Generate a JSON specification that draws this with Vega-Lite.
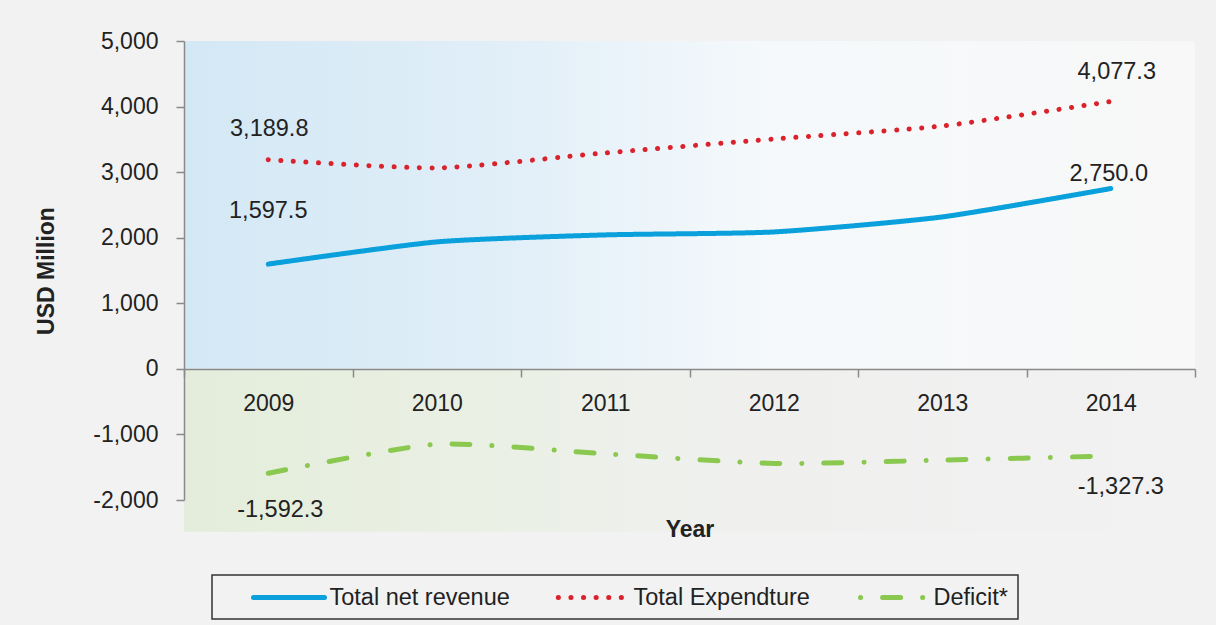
{
  "$schema": "https://vega.github.io/schema/vega-lite/v6.json",
  "width": 1011,
  "height": 459,
  "autosize": {"type": "none"},
  "padding": {"left": 184, "top": 41, "right": 21, "bottom": 125},
  "background": "#f2f2f2",
  "config": {
    "locale": {"number": {"decimal": ".", "thousands": ",", "grouping": [3], "currency": ["$", ""], "minus": "-"}},
    "view": {"stroke": null},
    "font": "Liberation Sans",
    "axis": {"labelFont": "Liberation Sans", "titleFont": "Liberation Sans", "labelColor": "#222222", "titleColor": "#222222", "domainColor": "#8a8a8a", "tickColor": "#8a8a8a", "domainWidth": 1.5, "tickWidth": 1.5, "grid": false}
  },
  "datasets": {
    "series": [
      {"year": "2009", "series": "Total net revenue", "value": 1597.5},
      {"year": "2010", "series": "Total net revenue", "value": 1936},
      {"year": "2011", "series": "Total net revenue", "value": 2043},
      {"year": "2012", "series": "Total net revenue", "value": 2088},
      {"year": "2013", "series": "Total net revenue", "value": 2317},
      {"year": "2014", "series": "Total net revenue", "value": 2750.0},
      {"year": "2009", "series": "Total Expendture", "value": 3189.8},
      {"year": "2010", "series": "Total Expendture", "value": 3064},
      {"year": "2011", "series": "Total Expendture", "value": 3293},
      {"year": "2012", "series": "Total Expendture", "value": 3506},
      {"year": "2013", "series": "Total Expendture", "value": 3704},
      {"year": "2014", "series": "Total Expendture", "value": 4077.3},
      {"year": "2009", "series": "Deficit*", "value": -1592.3},
      {"year": "2010", "series": "Deficit*", "value": -1148},
      {"year": "2011", "series": "Deficit*", "value": -1296},
      {"year": "2012", "series": "Deficit*", "value": -1443},
      {"year": "2013", "series": "Deficit*", "value": -1392},
      {"year": "2014", "series": "Deficit*", "value": -1327.3}
    ],
    "bands": [
      {"zone": "positive", "lo": 0, "hi": 5000},
      {"zone": "negative", "lo": 0, "hi": -2485}
    ]
  },
  "layer": [
    {
      "data": {"name": "bands"},
      "transform": [{"filter": "datum.zone === 'positive'"}],
      "mark": {"type": "rect", "color": {"gradient": "linear", "x1": 0, "x2": 1, "y1": 0, "y2": 0, "stops": [
        {"offset": 0, "color": "#d3e8f5"},
        {"offset": 0.3, "color": "#e0eef8"},
        {"offset": 0.58, "color": "rgba(245,249,251,1)"},
        {"offset": 1, "color": "rgba(249,249,249,0.8)"}
      ]}},
      "encoding": {
        "y": {"field": "lo", "type": "quantitative", "scale": {"domain": [-2000, 5000], "nice": false, "zero": false}},
        "y2": {"field": "hi"}
      }
    },
    {
      "data": {"name": "bands"},
      "transform": [{"filter": "datum.zone === 'negative'"}],
      "mark": {"type": "rect", "color": {"gradient": "linear", "x1": 0, "x2": 1, "y1": 0, "y2": 0, "stops": [
        {"offset": 0, "color": "#e4eddb"},
        {"offset": 0.3, "color": "#eaf0e4"},
        {"offset": 0.5, "color": "rgba(238,240,236,0.8)"},
        {"offset": 1, "color": "rgba(236,236,236,0)"}
      ]}},
      "encoding": {
        "y": {"field": "lo", "type": "quantitative"},
        "y2": {"field": "hi"}
      }
    },
    {
      "data": {"name": "series"},
      "mark": {"type": "line", "strokeWidth": 5, "strokeCap": "round", "interpolate": "cardinal", "tension": 0.4},
      "encoding": {
        "x": {
          "field": "year", "type": "nominal",
          "scale": {"paddingInner": 0, "paddingOuter": 0},
          "axis": {
            "title": "Year", "zindex": 2, "labelAngle": 0, "offset": -131, "tickBand": "extent", "tickSize": 8,
            "labelFontSize": 23, "labelPadding": 15, "titleFontSize": 23, "titleFontWeight": "bold", "titlePadding": 103
          }
        },
        "y": {
          "field": "value", "type": "quantitative",
          "scale": {"domain": [-2000, 5000], "nice": false, "zero": false},
          "axis": {
            "title": "USD Million", "zindex": 2, "values": [-2000, -1000, 0, 1000, 2000, 3000, 4000, 5000], "format": ",d",
            "tickSize": 8, "labelFontSize": 23, "labelPadding": 18, "titleFontSize": 23, "titleFontWeight": "bold", "titlePadding": 34
          }
        },
        "color": {
          "field": "series", "type": "nominal",
          "scale": {"domain": ["Total net revenue", "Total Expendture", "Deficit*"], "range": ["#0aa0dc", "#d9222c", "#8ac84f"]},
          "legend": {
            "title": " ", "titleOrient": "left", "titlePadding": 29, "titleFontSize": 23,
            "orient": "none", "legendX": 28, "legendY": 534, "direction": "horizontal",
            "symbolType": "M-3.55,0H3.55", "symbolSize": 400, "symbolStrokeWidth": 5, "symbolOffset": 25.5,
            "labelFontSize": 23.5, "labelFont": "Liberation Sans", "labelColor": "#222222", "labelOffset": 28, "labelLimit": 400,
            "columnPadding": 37, "padding": 10, "strokeColor": "#333333",
            "encode": {"symbols": {"update": {"strokeCap": {"value": "round"}, "strokeDashOffset": {"value": 37}}}, "legend": {"update": {"strokeWidth": {"value": 1.5}}}}
          }
        },
        "strokeDash": {
          "field": "series", "type": "nominal",
          "scale": {"domain": ["Total net revenue", "Total Expendture", "Deficit*"], "range": [[1, 0], [0.1, 12.5], [18, 22, 0.1, 22]]},
          "legend": {
            "title": " ", "titleOrient": "left", "titlePadding": 29, "titleFontSize": 23,
            "orient": "none", "legendX": 28, "legendY": 534, "direction": "horizontal",
            "symbolType": "M-3.55,0H3.55", "symbolSize": 400, "symbolStrokeWidth": 5, "symbolOffset": 25.5,
            "labelFontSize": 23.5, "labelFont": "Liberation Sans", "labelColor": "#222222", "labelOffset": 28, "labelLimit": 400,
            "columnPadding": 37, "padding": 10, "strokeColor": "#333333",
            "encode": {"symbols": {"update": {"strokeCap": {"value": "round"}, "strokeDashOffset": {"value": 37}}}, "legend": {"update": {"strokeWidth": {"value": 1.5}}}}
          }
        }
      }
    },
    {
      "data": {"name": "series"},
      "transform": [{"filter": "datum.series === 'Total Expendture' && datum.year === '2009'"}],
      "mark": {"type": "text", "fontSize": 23.5, "color": "#222222", "align": "center", "baseline": "middle", "dx": 1, "dy": -31},
      "encoding": {"x": {"field": "year", "type": "nominal"}, "y": {"field": "value", "type": "quantitative"}, "text": {"field": "value", "type": "quantitative", "format": ",.1f"}}
    },
    {
      "data": {"name": "series"},
      "transform": [{"filter": "datum.series === 'Total net revenue' && datum.year === '2009'"}],
      "mark": {"type": "text", "fontSize": 23.5, "color": "#222222", "align": "center", "baseline": "middle", "dx": 0, "dy": -53},
      "encoding": {"x": {"field": "year", "type": "nominal"}, "y": {"field": "value", "type": "quantitative"}, "text": {"field": "value", "type": "quantitative", "format": ",.1f"}}
    },
    {
      "data": {"name": "series"},
      "transform": [{"filter": "datum.series === 'Total Expendture' && datum.year === '2014'"}],
      "mark": {"type": "text", "fontSize": 23.5, "color": "#222222", "align": "center", "baseline": "middle", "dx": 6, "dy": -30},
      "encoding": {"x": {"field": "year", "type": "nominal"}, "y": {"field": "value", "type": "quantitative"}, "text": {"field": "value", "type": "quantitative", "format": ",.1f"}}
    },
    {
      "data": {"name": "series"},
      "transform": [{"filter": "datum.series === 'Total net revenue' && datum.year === '2014'"}],
      "mark": {"type": "text", "fontSize": 23.5, "color": "#222222", "align": "center", "baseline": "middle", "dx": -2, "dy": -15},
      "encoding": {"x": {"field": "year", "type": "nominal"}, "y": {"field": "value", "type": "quantitative"}, "text": {"field": "value", "type": "quantitative", "format": ",.1f"}}
    },
    {
      "data": {"name": "series"},
      "transform": [{"filter": "datum.series === 'Deficit*' && datum.year === '2009'"}],
      "mark": {"type": "text", "fontSize": 23.5, "color": "#222222", "align": "center", "baseline": "middle", "dx": 12, "dy": 37},
      "encoding": {"x": {"field": "year", "type": "nominal"}, "y": {"field": "value", "type": "quantitative"}, "text": {"field": "value", "type": "quantitative", "format": ",.1f"}}
    },
    {
      "data": {"name": "series"},
      "transform": [{"filter": "datum.series === 'Deficit*' && datum.year === '2014'"}],
      "mark": {"type": "text", "fontSize": 23.5, "color": "#222222", "align": "center", "baseline": "middle", "dx": 10, "dy": 31},
      "encoding": {"x": {"field": "year", "type": "nominal"}, "y": {"field": "value", "type": "quantitative"}, "text": {"field": "value", "type": "quantitative", "format": ",.1f"}}
    }
  ]
}
